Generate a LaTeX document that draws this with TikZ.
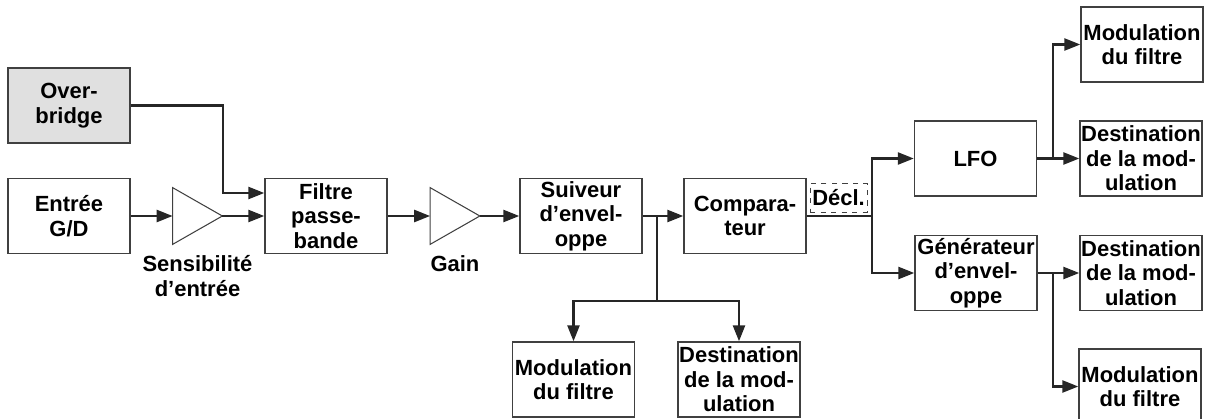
\documentclass[tikz,border=0pt]{standalone}
\usepackage{fontspec}
\setmainfont{Liberation Sans}
\usetikzlibrary{positioning,arrows.meta}

\definecolor{boxgray}{rgb}{0.88,0.88,0.88}
\definecolor{rimgray}{rgb}{0.25,0.25,0.25}

\tikzset{
  block/.style={draw=rimgray,line width=0.8pt,minimum width=2.44cm,minimum height=1.5cm,
    inner sep=0pt,align=center,font=\fontsize{12.5}{13.9}\selectfont\bfseries},
  amp/.style={minimum width=0.98cm,minimum height=1.12cm,inner sep=0pt},
  lbl/.style={align=center,inner sep=0pt,font=\fontsize{12.5}{13.9}\selectfont\bfseries},
  wire/.style={line width=1.4pt,color=black!85},
  conn/.style={wire,-{Triangle[length=0.32cm,width=0.24cm]}}
}

\begin{document}
\begin{tikzpicture}[x=0.02cm,y=-0.02cm]
  \useasboundingbox (0,0) rectangle (1208,419);
  % input side
  \node[block,fill=boxgray] (over) at (69,105.5) {Over-\\bridge};
  \node[block] (entree) at (69,216) {Entrée\\G/D};
  \node[amp] (sens) at (197.5,216) {};
  \node[lbl,below=0.22cm of sens] {Sensibilité\\d’entrée};
  \node[block] (filtre) at (326,216) {Filtre\\passe-\\bande};
  \node[amp] (gain) at (455,216) {};
  \node[lbl,below=0.22cm of gain] {Gain};
  \node[block] (suiveur) at (581,216) {Suiveur\\d’envel-\\oppe};
  \node[block] (comp) at (745,216) {Compara-\\teur};
  \node[draw=rimgray,dashed,line width=0.5pt,minimum width=1.14cm,minimum height=0.58cm,
    inner sep=0pt,font=\fontsize{12.5}{13.9}\selectfont\bfseries] (decl) at (838.5,197.5) {Décl.};
  % envelope follower outputs
  \node[block] (modC) at (573.5,379.5) {Modulation\\du filtre};
  \node[block] (destC) at (739,379.5) {Destination\\de la mod-\\ulation};
  % trigger targets
  \node[block] (lfo) at (975.5,158.5) {LFO};
  \node[block] (gen) at (976,273) {Générateur\\d’envel-\\oppe};
  \node[block] (modA) at (1142,44.5) {Modulation\\du filtre};
  \node[block] (destA) at (1141,158.5) {Destination\\de la mod-\\ulation};
  \node[block] (destB) at (1141,273) {Destination\\de la mod-\\ulation};
  \node[block] (modB) at (1140,386.5) {Modulation\\du filtre};

  % amplifier triangles
  \draw[draw=rimgray,line width=0.6pt] (sens.north west) -- (sens.east) -- (sens.south west) -- cycle;
  \draw[draw=rimgray,line width=0.6pt] (gain.north west) -- (gain.east) -- (gain.south west) -- cycle;

  \coordinate (obend) at (223,193);
  \coordinate (sj) at (657,216);
  \coordinate (sb) at (657,301);
  \coordinate (cj) at (872,216);
  \coordinate (lj) at (1053,158.5);
  \coordinate (gj) at (1053,273);

  \draw[conn] (over.east) -| (obend) -- (obend -| filtre.west);
  \draw[conn] (entree) -- (sens.west);
  \draw[conn] (sens.east) -- (filtre);
  \draw[conn] (filtre) -- (gain.west);
  \draw[conn] (gain.east) -- (suiveur);
  \draw[conn] (suiveur) -- (comp);
  \draw[wire] (sj) -- (sb);
  \draw[conn] (sb) -| (modC);
  \draw[conn] (sb) -| (destC);
  \draw[wire] (comp) -- (cj);
  \draw[conn] (cj) |- (lfo);
  \draw[conn] (cj) |- (gen);
  \draw[conn] (lfo) -- (destA);
  \draw[conn] (lj) |- (modA);
  \draw[conn] (gen) -- (destB);
  \draw[conn] (gj) |- (modB);
\end{tikzpicture}
\end{document}
